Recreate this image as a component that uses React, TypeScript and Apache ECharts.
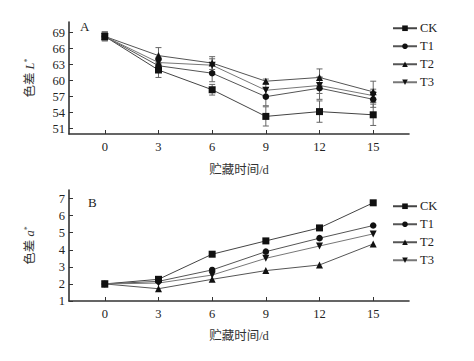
import React, { useEffect, useRef } from "react";
import * as echarts from "echarts";

const days = [0, 3, 6, 9, 12, 15];
const seriesNames = ["CK", "T1", "T2", "T3"];
const symbols = ["rect", "circle", "triangle", "path://M0,0 L10,0 L5,9 Z"];

const lValues = [
  [68.3, 62.0, 58.3, 53.3, 54.2, 53.6],
  [68.3, 62.8, 61.4, 57.0, 58.6, 56.5],
  [68.3, 64.7, 63.3, 59.9, 60.6, 57.9],
  [68.3, 63.4, 62.9, 58.2, 59.1, 57.2],
];
const lErrors = [
  [0.8, 1.4, 1.0, 1.8, 2.0, 2.0],
  [0.8, 1.0, 1.6, 1.7, 2.1, 1.5],
  [0.8, 1.5, 1.2, 0.4, 1.6, 2.0],
  [0.8, 1.0, 1.2, 1.2, 1.5, 1.2],
];
const aValues = [
  [2.0, 2.27, 3.74, 4.52, 5.28, 6.75],
  [2.0, 2.15, 2.82, 3.89, 4.68, 5.42],
  [2.0, 1.72, 2.27, 2.78, 3.11, 4.34],
  [2.0, 2.05, 2.52, 3.5, 4.22, 4.93],
];
const lTicks = [51, 54, 57, 60, 63, 66, 69];
const aTicks = [1, 2, 3, 4, 5, 6, 7];
const xTicks = [0, 3, 6, 9, 12, 15];

const FONT = "'Liberation Serif', 'Noto Sans CJK SC', serif";
const lineColors = ["#444", "#555", "#555", "#777"];

export default function App() {
  const ref = useRef<HTMLDivElement>(null);
  useEffect(() => {
    if (!ref.current) return;
    const chart = echarts.init(ref.current, null, { renderer: "svg" });

    const xAxisBase = (gridIndex: number) => ({
      type: "value",
      gridIndex,
      min: -2,
      max: 17,
      name: "贮藏时间/d",
      nameLocation: "middle",
      nameGap: gridIndex === 0 ? 30 : 29,
      nameTextStyle: { fontFamily: FONT, fontSize: 12.5, color: "#333" },
      axisLine: { show: true, onZero: false, lineStyle: { color: "#333", width: 1.6 } },
      axisTick: { show: true, inside: true, length: 4, customValues: xTicks, lineStyle: { color: "#333" } },
      axisLabel: { customValues: xTicks, fontFamily: FONT, fontSize: 12.5, color: "#222", margin: 7 },
      splitLine: { show: false },
    });

    const yName = (letter: string) => `{a|色差 }{b|${letter}}{c|*}`;
    const yRich = {
      a: { fontFamily: FONT, fontSize: 12.5, color: "#333" },
      b: { fontFamily: FONT, fontSize: 12.5, fontStyle: "italic", color: "#333" },
      c: { fontFamily: FONT, fontSize: 8, color: "#333", verticalAlign: "top" },
    };

    const yAxisBase = (gridIndex: number, min: number, max: number, ticks: number[], letter: string) => ({
      type: "value",
      gridIndex,
      min,
      max,
      name: yName(letter),
      nameLocation: "middle",
      nameGap: 33,
      nameRotate: 90,
      nameTextStyle: { rich: yRich },
      axisLine: { show: true, onZero: false, lineStyle: { color: "#333", width: 1.6 } },
      axisTick: { show: true, inside: true, length: 4, customValues: ticks, lineStyle: { color: "#333" } },
      axisLabel: { customValues: ticks, fontFamily: FONT, fontSize: 12.5, color: "#222", margin: 4 },
      splitLine: { show: false },
    });

    const lineSeries = (values: number[][], idx: number) =>
      seriesNames.map((name, i) => ({
        type: "line",
        name,
        xAxisIndex: idx,
        yAxisIndex: idx,
        data: days.map((d, j) => [d, values[i][j]]),
        symbol: symbols[i],
        symbolSize: i === 1 ? 6.5 : 7,
        lineStyle: { color: lineColors[i], width: 1 },
        itemStyle: { color: "#111" },
        z: 3,
      }));

    const errorSeries = seriesNames.map((name, i) => ({
      type: "custom",
      name: name + "_err",
      xAxisIndex: 0,
      yAxisIndex: 0,
      data: days.map((d, j) => [d, lValues[i][j] - lErrors[i][j], lValues[i][j] + lErrors[i][j]]),
      z: 2,
      renderItem: (params: any, api: any) => {
        const lo = api.coord([api.value(0), api.value(1)]);
        const hi = api.coord([api.value(0), api.value(2)]);
        const w = 3;
        const style = { stroke: "#666", lineWidth: 1 };
        return {
          type: "group",
          children: [
            { type: "line", shape: { x1: lo[0], y1: lo[1], x2: hi[0], y2: hi[1] }, style },
            { type: "line", shape: { x1: lo[0] - w, y1: lo[1], x2: lo[0] + w, y2: lo[1] }, style },
            { type: "line", shape: { x1: hi[0] - w, y1: hi[1], x2: hi[0] + w, y2: hi[1] }, style },
          ],
        };
      },
    }));

    const legendBase = (top: number) => ({
      data: seriesNames,
      orient: "vertical",
      left: 387,
      top,
      itemWidth: 24,
      itemHeight: 7,
      itemGap: 5.5,
      textStyle: { fontFamily: FONT, fontSize: 12.5, color: "#222", padding: [0, 0, 0, -2] },
      selectedMode: false,
    });

    chart.setOption({
      animation: false,
      backgroundColor: "#fff",
      grid: [
        { left: 69, top: 22, width: 340, height: 112 },
        { left: 69, top: 190, width: 340, height: 111 },
      ],
      xAxis: [xAxisBase(0), xAxisBase(1)],
      yAxis: [yAxisBase(0, 50, 71, lTicks, "L"), yAxisBase(1, 1, 7.5, aTicks, "a")],
      legend: [legendBase(17), legendBase(195)],
      graphic: [
        { type: "text", left: 80, top: 20, style: { text: "A", font: `13px ${FONT}`, fill: "#222" } },
        { type: "text", left: 88, top: 196, style: { text: "B", font: `13px ${FONT}`, fill: "#222" } },
      ],
      series: [...errorSeries, ...lineSeries(lValues, 0), ...lineSeries(aValues, 1)],
    });
    return () => chart.dispose();
  }, []);
  return <div ref={ref} style={{ width: 474, height: 361, position: "absolute", left: 0, top: 0 }} />;
}
